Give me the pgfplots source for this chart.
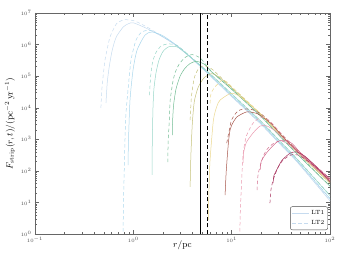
\documentclass[border=0pt]{standalone}
\usepackage{pgfplots}
\pgfplotsset{compat=1.18}
\definecolor{cA}{HTML}{C6DBEF}
\definecolor{cB}{HTML}{ABD7EC}
\definecolor{cC}{HTML}{98D6C8}
\definecolor{cD}{HTML}{72BC93}
\definecolor{cE}{HTML}{C4C27A}
\definecolor{cF}{HTML}{EBD78E}
\definecolor{cG}{HTML}{A6544A}
\definecolor{cH}{HTML}{EA98AE}
\definecolor{cI}{HTML}{D26A8C}
\definecolor{cJ}{HTML}{A6305C}
\begin{document}
\begin{tikzpicture}[x=1pt,y=1pt]
\useasboundingbox (-35,-27) rectangle (313,234);
\begin{axis}[
  at={(0,0)}, anchor=south west, scale only axis,
  width=295pt, height=221pt,
  xmode=log, ymode=log, xmin=0.1, xmax=100, ymin=1, ymax=1e7,
  axis line style={black!60, line width=0.8pt},
  tick style={black!60, line width=0.4pt},
  major tick length=4pt, minor tick length=2pt,
  tick align=inside,
  tick label style={font=\fontsize{5}{6}\selectfont, black!70},
  label style={font=\fontsize{9}{10}\selectfont},
  xlabel={$r/\mathrm{pc}$},
  ylabel={$F_{\mathrm{strip}}(r,t)/(\mathrm{pc}^{-2}\,\mathrm{yr}^{-1})$},
  xlabel style={at={(axis description cs:0.5,-0.05)}, anchor=center},
  ylabel style={at={(axis description cs:-0.085,0.5)}, anchor=center},
  legend style={at={(rel axis cs:0.993,0.018)}, anchor=south east,
    draw=black!70, rounded corners=2pt, font=\fontsize{6}{7}\selectfont,
    inner sep=1.5pt, row sep=1pt},
  legend cell align=left,
  every axis plot/.append style={line width=0.5pt, smooth, tension=0.4},
  dsh/.style={dash pattern=on 3.5pt off 2.5pt},
]
% pair 1
\addplot[cA, dsh, forget plot] coordinates {(0.468,9.8e3)(0.479,3.98e4)(0.501,1.58e5)(0.515,3.24e5)(0.550,8.9e5)(0.579,1.74e6)(0.631,3.16e6)(0.678,4.68e6)(0.759,5.75e6)(0.824,6.17e6)(1.0,5.75e6)(1.17,4.68e6)(1.48,3.16e6)(1.87,2.0e6)(2.82,8.9e5)(4.07,3.39e5)(6.31,9.3e4)(10,2.3e4)(19.5,3.2e3)(31.6,670)(45.7,205)(100,11.5)};
\addplot[cA, forget plot] coordinates {(0.527,1.41e4)(0.543,6.3e4)(0.569,2.0e5)(0.603,5.6e5)(0.638,1.12e6)(0.678,1.86e6)(0.791,3.63e6)(0.891,4.57e6)(1.0,4.9e6)(1.37,3.24e6)(2.0,1.74e6)(2.82,8.5e5)(4.07,3.24e5)(6.31,8.9e4)(10,2.24e4)(19.5,3.16e3)(31.6,661)(45.7,200)(100,11.2)};
% pair 2
\addplot[cB, dsh, forget plot] coordinates {(0.783,0.32)(0.794,10)(0.804,51)(0.834,4.07e3)(0.883,3.63e4)(0.948,3.24e5)(1.064,1.38e6)(1.22,2.51e6)(1.48,2.82e6)(1.86,2.0e6)(2.82,9.1e5)(4.07,3.39e5)(6.31,9.6e4)(10,2.45e4)(19.5,3.5e3)(31.6,730)(45.7,222)(100,13.4)};
\addplot[cB, forget plot] coordinates {(0.883,151)(0.893,933)(0.925,1.74e4)(0.993,1.55e5)(1.09,6.6e5)(1.315,2.0e6)(1.55,2.51e6)(2.0,1.9e6)(2.82,8.9e5)(4.07,3.31e5)(6.31,9.4e4)(10,2.42e4)(19.5,3.43e3)(31.6,716)(45.7,217)(100,13.1)};
% pair 3
\addplot[cC, dsh, forget plot] coordinates {(1.46,2.5e4)(1.50,1.0e5)(1.57,2.8e5)(1.70,5.6e5)(1.91,8.9e5)(2.24,1.05e6)(2.82,9.1e5)(4.07,3.47e5)(6.31,1.05e5)(10,2.75e4)(19.5,3.95e3)(31.6,825)(45.7,250)(100,16.8)};
\addplot[cC, forget plot] coordinates {(1.55,74)(1.56,1.0e3)(1.585,1.0e4)(1.62,3.98e4)(1.70,1.26e5)(1.82,3.16e5)(2.0,6.0e5)(2.29,8.5e5)(2.82,8.3e5)(4.07,3.39e5)(6.31,1.03e5)(10,2.71e4)(19.5,3.87e3)(31.6,808)(45.7,245)(100,16.4)};
% pair 4
\addplot[cD, dsh, forget plot] coordinates {(2.24,190)(2.26,794)(2.32,3.98e3)(2.37,1.74e4)(2.54,7.4e4)(2.69,1.41e5)(2.95,2.51e5)(3.39,3.98e5)(3.98,4.8e5)(4.85,3.63e5)(6.31,1.35e5)(10,3.9e4)(19.5,5.7e3)(31.6,1.19e3)(45.7,365)(100,33.5)};
\addplot[cD, forget plot] coordinates {(2.49,1.35e3)(2.51,3.98e3)(2.57,1.26e4)(2.72,3.98e4)(2.99,1.0e5)(3.35,1.78e5)(3.78,2.51e5)(4.37,2.95e5)(5.25,2.4e5)(6.31,1.33e5)(10,3.81e4)(19.5,5.56e3)(31.6,1.16e3)(45.7,356)(100,32.5)};
% pair 5
\addplot[cE, dsh, forget plot] coordinates {(3.78,4.07e3)(3.85,1.26e4)(3.93,2.82e4)(4.17,8.9e4)(4.57,1.66e5)(5.25,2.14e5)(6.31,1.66e5)(10,4.35e4)(19.5,6.4e3)(31.6,1.34e3)(45.7,412)(100,41.5)};
\addplot[cE, forget plot] coordinates {(3.78,31)(3.85,316)(3.98,3.16e3)(4.17,1.58e4)(4.57,4.47e4)(5.25,8.9e4)(6.31,1.2e5)(7.59,8.9e4)(10,4.27e4)(19.5,6.27e3)(31.6,1.31e3)(45.7,404)(100,40.8)};
% pair 6
\addplot[cF, dsh, forget plot] coordinates {(6.03,1.38e4)(6.17,2.82e4)(6.78,4.57e4)(7.93,7.4e4)(8.91,6.6e4)(10,4.68e4)(19.5,6.6e3)(31.6,1.38e3)(45.7,428)(100,45)};
\addplot[cF, forget plot] coordinates {(5.78,2.75)(5.89,31.6)(6.03,219)(6.52,4.07e3)(7.08,1.12e4)(7.62,1.74e4)(9.64,2.82e4)(11.2,2.63e4)(14.1,1.58e4)(19.5,6.53e3)(31.6,1.36e3)(45.7,421)(100,44.1)};
% pair 7
\addplot[cG, dsh, forget plot] coordinates {(8.91,759)(9.27,1.41e3)(9.64,2.63e3)(10,4.17e3)(11.2,7.1e3)(12.6,8.9e3)(15.8,8.9e3)(20,6.3e3)(25.1,3.3e3)(31.6,1.51e3)(45.7,479)(100,53.7)};
\addplot[cG, forget plot] coordinates {(8.57,17)(8.81,100)(9.27,794)(9.64,2.0e3)(10,2.82e3)(11.3,5.1e3)(14.3,7.4e3)(18.0,6.6e3)(19.5,5.75e3)(25.1,3.16e3)(31.6,1.42e3)(45.7,439)(100,47.5)};
% pair 8
\addplot[cH, dsh, forget plot] coordinates {(12.1,0.5)(12.2,4)(12.6,40)(13.1,363)(14.1,1.26e3)(16.5,3.24e3)(20,5.0e3)(24,4.0e3)(31.6,1.58e3)(45.7,490)(100,55)};
\addplot[cH, forget plot] coordinates {(13.1,178)(13.2,363)(14.1,794)(16.5,1.58e3)(19.5,2.63e3)(22.9,2.63e3)(28.2,1.78e3)(35.5,891)(45.7,417)(100,47.9)};
% pair 9
\addplot[cI, dsh, forget plot] coordinates {(18.1,24.5)(18.6,79)(20.8,275)(22.9,479)(26.4,724)(31.6,891)(38,708)(45.7,479)(100,57.5)};
\addplot[cI, forget plot] coordinates {(19.5,107)(20,200)(22.9,389)(29,832)(34.9,933)(41.7,708)(52.5,316)(100,50)};
% pair 10
\addplot[cJ, dsh, forget plot] coordinates {(24.5,9.5)(25.1,25)(26.4,51)(29.5,126)(33.3,219)(39.8,316)(47.9,316)(63.1,178)(100,56)};
\addplot[cJ, forget plot] coordinates {(26.4,41)(26.9,71)(29.5,126)(32.6,219)(39.3,363)(45.7,398)(56.2,282)(74.1,126)(100,45)};
% vertical lines
\addplot[black, line width=0.8pt, sharp plot, forget plot] coordinates {(4.85,1)(4.85,1e7)};
\addplot[black, line width=0.8pt, sharp plot, dash pattern=on 4pt off 2.5pt, forget plot] coordinates {(5.71,1)(5.71,1e7)};
\addlegendimage{cA, line width=0.5pt}
\addlegendentry{LT1}
\addlegendimage{cA, line width=0.5pt, dash pattern=on 3.5pt off 2.5pt}
\addlegendentry{LT2}
\end{axis}
\end{tikzpicture}
\end{document}
